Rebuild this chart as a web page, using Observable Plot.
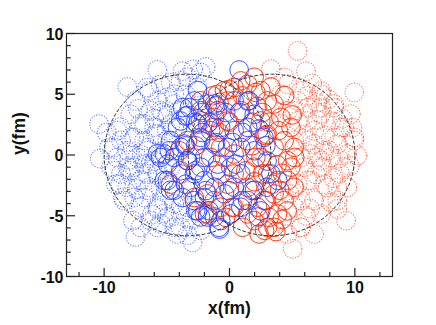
<!DOCTYPE html>
<html>
<head>
<meta charset="utf-8">
<script src="https://cdn.jsdelivr.net/npm/d3@7"></script>
<script src="https://cdn.jsdelivr.net/npm/@observablehq/plot@0.6"></script>
<style>
  html, body { margin: 0; padding: 0; background: white; }
</style>
</head>
<body>
<div id="chart"></div>
<script>
// Nucleon positions (fm)
const blueSpectators = [
  [-10.4,2.55],[-10.35,-0.3],[-9.8,1.85],[-8.15,5.6],[-5.75,7.0],[-3.75,6.9],[-2.9,7.05],[-1.9,7.25],
  [-7.5,-6.75],[-2.95,-7.2],[-7.7,-5.4],[-5.75,-5.95],[-3.9,-5.95],[-9.2,0.63],[-9.05,-2.4],[-8.5,-3.5],
  [-7.1,-4.3],[-6.4,-2.65],[-8.1,-1.0],[-7.35,-0.2],[-6.8,1.2],[-6.0,2.3],[-5.5,3.65],[-4.95,4.75],
  [-5.75,4.45],[-4.7,5.95],[-6.55,5.55],[-7.5,4.45],[-7.9,3.35],[-8.7,2.3],[-7.6,1.45],[-6.55,0.35],
  [-5.5,0.1],[-4.95,1.2],[-4.4,2.3],[-3.9,3.65],[-3.5,5.0],[-5.75,-1.55],[-7.1,-2.1],[-4.95,-2.65],
  [-4.4,-4.0],[-5.75,-4.3],[-3.35,-4.3],[-2.3,-6.2],[-4.15,-6.5],[-6.3,-5.4],[-7.1,-5.95],[-8.65,-1.55],
  [-9.45,-1.0],[-8.15,-2.65],[-7.6,-3.5],[-8.95,-0.2],[-7.1,2.55],[-6.3,3.65],[-4.95,3.35],[-4.4,4.2],
  [-5.5,5.8],[-3.35,6.4],[-2.3,6.8],[-2.55,5.55],[-5.75,1.7],[-6.3,-0.75],[-4.7,-1.0],[-6.8,-3.5],
  [-5.2,-3.75],[-3.9,-4.85],[-8.15,0.35],[-7.6,-1.0],[-8.65,1.2],[-4.4,0.35],[-6.55,-1.55],[-5.5,-2.65],
  [-8.94,2.0],[-6.4,5.28],[-5.35,3.5],[-4.4,5.0],[-3.9,6.1],[-6.8,2.55],[-7.9,1.45],[-5.9,1.73],
  [-4.7,2.55],[-6.5,0.6],[-9.6,0.62],[-3.35,-6.6],[-4.95,-5.1],[-6.2,-4.9],[-3.0,-5.3],[-8.4,-3.75],
  [-8.7,-2.4],[-7.9,-1.3],[-6.55,-2.9],[-5.75,-4.44],[-4.4,-5.95],[-5.5,-5.67],[-6.8,-0.75],[-5.75,-1.3],
  [-9.2,-1.3],[-3.9,-4.17],[-7.0,0.0],[-6.0,-0.5],[-8.0,-0.4],[-7.3,3.8],[-5.2,-4.8],[-6.0,3.0],
  [-7.4,-2.8],[-5.0,2.0]
];
const blueParticipants = [
  [0.77,7.0],[-2.55,5.3],[-2.8,4.45],[-3.75,3.9],[-3.35,3.25],[-1.75,4.2],[-0.95,3.65],[0.37,4.45],
  [1.45,4.45],[1.97,3.35],[1.45,2.27],[1.83,2.7],[2.36,2.14],[1.04,1.86],[0.37,2.0],[-0.7,2.27],
  [-1.75,2.55],[-2.3,1.45],[-1.2,0.9],[-0.15,0.63],[0.9,0.63],[2.0,0.35],[2.75,1.45],[3.0,-0.5],
  [3.3,-1.55],[3.85,-2.1],[3.0,-2.65],[2.0,-2.9],[1.45,-3.75],[0.9,-4.3],[0.1,-4.85],[-0.7,-5.4],
  [-0.8,-6.1],[-1.75,-5.1],[-2.55,-4.6],[-2.8,-3.75],[-3.75,-3.5],[-4.7,-2.9],[-4.95,-2.1],[-5.5,-0.2],
  [-4.4,-0.2],[-3.9,0.63],[-3.35,-0.45],[-2.8,-1.55],[-2.0,-2.1],[-1.2,-2.65],[-0.4,-3.2],[0.37,-2.65],
  [0.9,-1.55],[0.1,-1.0],[-0.95,-0.75],[-2.0,-0.2],[-2.3,-1.0],[2.5,-4.6],[2.3,-5.1],[-2.3,3.65],
  [-4.15,2.27],[-4.7,1.2],[-5.75,0.1],[-0.3,3.5],[-1.1,4.05],[-3.5,3.2],[-2.7,2.7],[-2.15,1.85],
  [0.77,3.5],[1.56,4.46],[0.24,1.03],[-1.1,1.03],[-2.7,0.76],[-3.5,0.76],[2.9,0.76],[-5.2,-2.1],
  [-3.9,-1.3],[-4.4,-2.9],[-3.1,-2.66],[-2.0,-3.5],[-1.2,-5.1],[-0.83,-5.95],[-2.3,-5.1],[-3.35,-0.47],
  [-4.95,-0.75],[-5.2,0.08],[-3.2,3.9],[-3.9,2.8],[-2.55,2.55],[-1.2,4.2],[-1.5,2.0],[-4.8,0.35],
  [-3.6,0.9],[1.04,-3.75],[-0.03,-2.93],[-1.9,-2.93],[-2.7,-1.3],[-1.1,-1.3],[-3.5,-2.4],[0.5,-0.75],
  [1.83,-2.93],[-1.63,-4.58],[-2.7,-4.58]
];
const redParticipants = [
  [1.44,5.83],[-0.03,5.4],[2.1,5.15],[1.04,4.87],[-0.83,4.32],[2.63,3.5],[3.16,2.7],[2.9,1.59],
  [-0.03,2.7],[-1.63,2.7],[-2.15,3.5],[-1.36,4.87],[1.83,0.76],[-0.83,1.86],[-2.3,4.46],[-0.4,5.3],
  [-1.2,3.1],[-4.0,0.35],[-4.7,-2.4],[-1.75,-4.85],[-0.7,-4.3],[-2.8,-3.5],[-0.15,-2.4],[-0.43,-0.2],
  [2.36,-6.5],[1.04,-5.95],[3.16,-5.13],[2.9,-3.75],[3.4,-2.4],[2.63,-1.56],[2.1,-0.2],[1.3,-1.3],
  [-0.3,-5.13],[0.24,-4.3],[3.56,4.2],[4.1,3.1],[4.36,1.18],[4.63,-0.47],[4.63,-2.1],[4.36,-3.75],
  [3.83,-4.85],[3.56,-5.95],[3.03,-5.95],[1.97,-5.4],[1.44,-4.85],[0.37,-4.3],[0.9,6.1],[1.97,6.4],
  [2.5,5.3],[3.0,4.45],[0.37,5.55],[-0.16,4.45],[-0.96,5.0],[0.9,3.65],[2.5,2.8],[3.0,1.7],
  [3.56,0.63],[2.5,-0.2],[1.97,-1.0],[3.03,-1.56],[3.56,-3.2],[2.77,-3.75],[2.23,-4.3],[1.44,-2.66],
  [0.37,-1.56],[-0.7,-1.56],[-1.22,-3.75],[-2.0,-4.85],[-1.75,-3.2],[-2.3,1.18],[-1.22,2.27],[-0.16,2.8],
  [1.44,1.18],[0.37,0.08],[-0.7,0.63],[-1.5,-0.2],[-3.1,-0.2],[-3.9,-1.56],[-2.3,2.8],[-3.35,1.18],
  [4.9,2.27],[5.16,0.63],[4.9,-1.0],[5.16,-2.66],[4.2,-5.3],[3.3,5.6],[2.2,4.0],[3.9,2.0],
  [3.8,-0.8],[2.0,-2.2],[4.0,-2.9],[2.8,-6.2],[4.4,4.9],[5.0,3.3],[4.2,-1.5],[5.2,-0.2],
  [4.6,-4.6],[3.7,-6.3]
];
const redSpectators = [
  [5.43,8.57],[6.1,6.9],[9.95,5.15],[9.3,-5.4],[8.6,-4.44],[5.03,-7.72],[10.2,-0.05],[9.8,2.27],
  [3.3,7.07],[4.1,5.0],[6.2,4.87],[7.3,3.9],[8.1,2.8],[5.43,2.8],[4.63,3.64],[6.75,2.0],
  [8.6,0.9],[5.16,1.18],[7.55,0.35],[9.15,2.27],[6.1,-5.0],[5.7,-3.75],[7.55,-2.4],[8.6,-2.66],
  [6.5,-2.1],[7.3,-0.47],[5.43,-2.4],[5.7,-5.95],[4.63,5.83],[7.3,5.28],[8.35,4.2],[9.68,3.37],
  [6.22,3.9],[4.1,2.55],[6.22,1.18],[9.95,1.45],[9.4,0.08],[6.5,0.08],[5.43,4.46],[8.35,1.45],
  [8.1,-0.2],[7.3,-1.0],[9.15,-1.0],[6.75,0.9],[5.7,-0.2],[6.22,-2.1],[7.8,-2.66],[6.75,-3.75],
  [5.16,-4.3],[9.4,-2.66],[9.95,1.18],[6.22,2.8],[7.3,3.37],[5.16,3.64],[8.35,3.9],[5.7,5.28],
  [7.3,5.0],[4.36,6.38],[8.9,2.27],[8.6,-3.75],[5.7,-5.95],[7.3,-4.85],[6.75,-6.5],[4.63,-6.5],
  [7.9,0.4],[8.8,-1.5],[6.9,-1.6],[7.6,1.6],[5.9,1.7],[7.0,2.9],[8.1,-3.9],[6.4,-4.4],
  [4.8,-3.2],[9.6,-0.9],[7.9,4.6],[6.6,5.9],[8.7,-0.3],[7.0,-0.2],[6.0,-1.0],[8.3,-1.9],
  [7.0,4.3],[9.0,3.0]
];
// Nucleus outlines (dashed): centres on the x axis and radius, fm
const nucleusCenters = [-3.35, 3.35];
const nucleusRadius = 6.65;
// Axis ticks and labels
const xMajorTicks = [-10, 0, 10];
const xMinorTicks = [-12, -8, -6, -4, -2, 2, 4, 6, 8, 12];
const yMajorTicks = [-10, -5, 0, 5, 10];
const yMinorTicks = [-9,-8,-7,-6,-4,-3,-2,-1,1,2,3,4,6,7,8,9];
const xTickLabels = [-10, 0, 10];
const yTickLabels = [10, 5, 0, -5, -10];
const xTitle = "x(fm)";
const yTitle = "y(fm)";

const outline = nucleusCenters.flatMap((c, i) =>
  d3.range(0, 361, 2).map(a => ({
    k: i,
    x: c + nucleusRadius * Math.cos(a * Math.PI / 180),
    y: nucleusRadius * Math.sin(a * Math.PI / 180)
  }))
);

const R = 9.3;
const BLUE = "#2a44ff", RED = "#ff2a00";
const BLUE_D = "#3a58ff", RED_D = "#ff4a2a";
const FRAME_W = 436 - 66 - 44, FRAME_H = 325 - 33 - 49;

const chart = Plot.plot({
  width: 436,
  height: 325,
  marginLeft: 66,
  marginRight: 44,
  marginTop: 33,
  marginBottom: 49,
  x: {domain: [-13, 13], axis: null},
  y: {domain: [-10, 10], axis: null},
  style: {
    fontFamily: "'Liberation Sans', Arial, Helvetica, sans-serif",
    fontWeight: "bold",
    background: "white",
    overflow: "visible"
  },
  marks: [
    Plot.dot(blueSpectators, {x: d => d[0], y: d => d[1], r: R, stroke: BLUE_D, strokeWidth: 1.1, strokeDasharray: "1.2,1.5", strokeOpacity: 0.75}),
    Plot.dot(redSpectators, {x: d => d[0], y: d => d[1], r: R, stroke: RED_D, strokeWidth: 1.1, strokeDasharray: "1.2,1.5", strokeOpacity: 0.75}),
    Plot.dot(redParticipants, {x: d => d[0], y: d => d[1], r: R, stroke: RED, strokeWidth: 1, strokeOpacity: 0.9}),
    Plot.dot(blueParticipants, {x: d => d[0], y: d => d[1], r: R, stroke: BLUE, strokeWidth: 1, strokeOpacity: 0.9}),
    Plot.line(outline, {x: "x", y: "y", z: "k", stroke: "#333", strokeWidth: 1, strokeDasharray: "3,2.5"}),
    Plot.frame({stroke: "#222", strokeWidth: 1.2}),
    Plot.ruleX(xMajorTicks, {x: d => d, stroke: "#222", strokeWidth: 1.2, insetTop: FRAME_H - 8}),
    Plot.ruleX(xMinorTicks, {x: d => d, stroke: "#222", strokeWidth: 1.2, insetTop: FRAME_H - 4}),
    Plot.ruleY(yMajorTicks, {y: d => d, stroke: "#222", strokeWidth: 1.2, insetRight: FRAME_W - 9}),
    Plot.ruleY(yMinorTicks, {y: d => d, stroke: "#222", strokeWidth: 1.2, insetRight: FRAME_W - 4.7}),
    Plot.text(xTickLabels, {x: d => d, text: d => String(d), frameAnchor: "bottom", lineAnchor: "top", dy: 5.5, fontSize: 16, fill: "#111"}),
    Plot.text(yTickLabels, {y: d => d, text: d => String(d), frameAnchor: "left", textAnchor: "end", dx: -3, dy: 1, fontSize: 16, fill: "#111"}),
    Plot.text([xTitle], {text: d => d, frameAnchor: "bottom", dy: 37, fontSize: 17.5, fill: "#111"}),
    Plot.text([yTitle], {text: d => d, frameAnchor: "left", rotate: -90, dx: -47, fontSize: 17.5, fill: "#111"})
  ]
});
document.getElementById("chart").appendChild(chart);
</script>
</body>
</html>
